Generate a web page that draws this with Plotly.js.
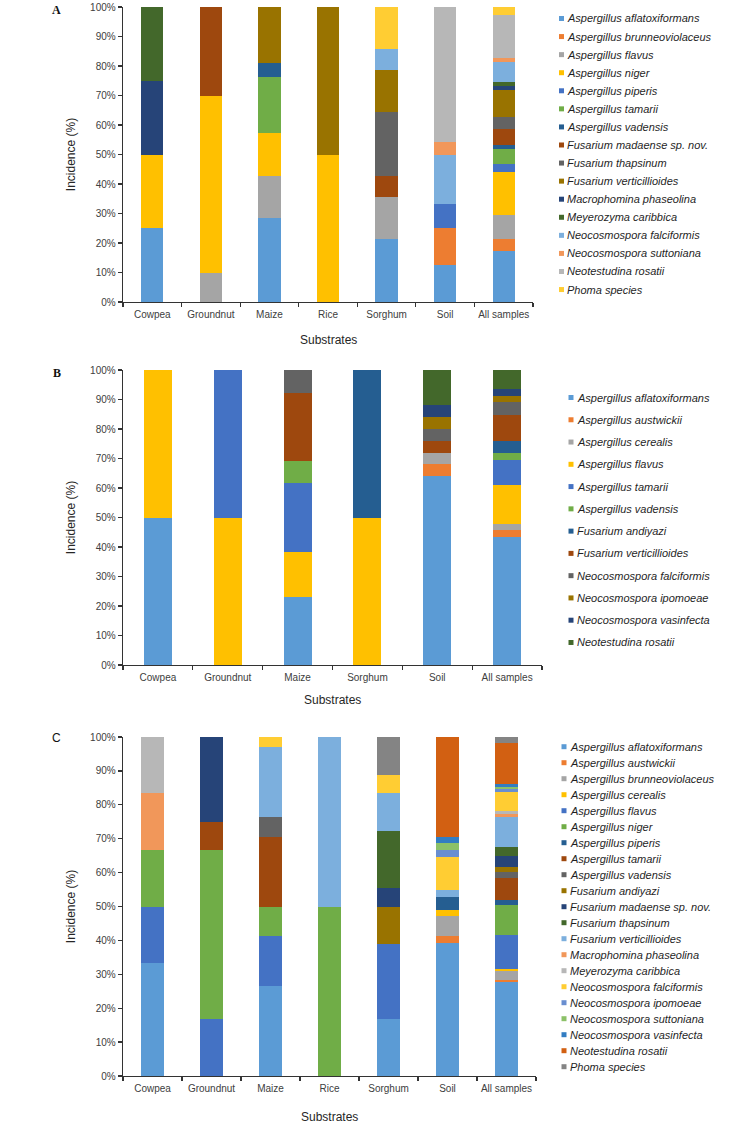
<!DOCTYPE html>
<html>
<head>
<meta charset="utf-8">
<script src="https://cdn.plot.ly/plotly-3.0.1.min.js"></script>
<style>html,body{margin:0;padding:0;background:#fff;}#chart{width:756px;height:1124px;}</style>
</head>
<body>
<div id="chart"></div>
<script>
// ---------------- DATA ----------------
const catsA = ['Cowpea', 'Groundnut', 'Maize', 'Rice', 'Sorghum', 'Soil', 'All samples'];
const speciesA = ['Aspergillus aflatoxiformans', 'Aspergillus brunneoviolaceus', 'Aspergillus flavus', 'Aspergillus niger',
  'Aspergillus piperis', 'Aspergillus tamarii', 'Aspergillus vadensis', 'Fusarium madaense sp. nov.', 'Fusarium thapsinum',
  'Fusarium verticillioides', 'Macrophomina phaseolina', 'Meyerozyma caribbica', 'Neocosmospora falciformis',
  'Neocosmospora suttoniana', 'Neotestudina rosatii', 'Phoma species'];
// one row per species, one value (%) per substrate
const valsA = [
  [25, 0, 28.57, 0, 21.43, 12.5, 17.33],
  [0, 0, 0, 0, 0, 12.5, 4.0],
  [0, 10, 14.29, 0, 14.29, 0, 8.0],
  [25, 60, 14.29, 50, 0, 0, 14.67],
  [0, 0, 0, 0, 0, 8.33, 2.67],
  [0, 0, 19.05, 0, 0, 0, 5.33],
  [0, 0, 4.76, 0, 0, 0, 1.33],
  [0, 30, 0, 0, 7.14, 0, 5.33],
  [0, 0, 0, 0, 21.43, 0, 4.0],
  [0, 0, 19.05, 50, 14.29, 0, 9.33],
  [25, 0, 0, 0, 0, 0, 1.33],
  [25, 0, 0, 0, 0, 0, 1.33],
  [0, 0, 0, 0, 7.14, 16.67, 6.67],
  [0, 0, 0, 0, 0, 4.17, 1.33],
  [0, 0, 0, 0, 0, 45.83, 14.67],
  [0, 0, 0, 0, 14.29, 0, 2.67]
];

const catsB = ['Cowpea', 'Groundnut', 'Maize', 'Sorghum', 'Soil', 'All samples'];
const speciesB = ['Aspergillus aflatoxiformans', 'Aspergillus austwickii', 'Aspergillus cerealis', 'Aspergillus flavus',
  'Aspergillus tamarii', 'Aspergillus vadensis', 'Fusarium andiyazi', 'Fusarium verticillioides',
  'Neocosmospora falciformis', 'Neocosmospora ipomoeae', 'Neocosmospora vasinfecta', 'Neotestudina rosatii'];
const valsB = [
  [50, 0, 23.08, 0, 64, 43.48],
  [0, 0, 0, 0, 4, 2.17],
  [0, 0, 0, 0, 4, 2.17],
  [50, 50, 15.38, 50, 0, 13.04],
  [0, 50, 23.08, 0, 0, 8.70],
  [0, 0, 7.69, 0, 0, 2.17],
  [0, 0, 0, 50, 0, 4.35],
  [0, 0, 23.08, 0, 4, 8.70],
  [0, 0, 7.69, 0, 4, 4.35],
  [0, 0, 0, 0, 4, 2.17],
  [0, 0, 0, 0, 4, 2.17],
  [0, 0, 0, 0, 12, 6.52]
];

const catsC = ['Cowpea', 'Groundnut', 'Maize', 'Rice', 'Sorghum', 'Soil', 'All samples'];
const speciesC = ['Aspergillus aflatoxiformans', 'Aspergillus austwickii', 'Aspergillus brunneoviolaceus', 'Aspergillus cerealis',
  'Aspergillus flavus', 'Aspergillus niger', 'Aspergillus piperis', 'Aspergillus tamarii', 'Aspergillus vadensis',
  'Fusarium andiyazi', 'Fusarium madaense sp. nov.', 'Fusarium thapsinum', 'Fusarium verticillioides',
  'Macrophomina phaseolina', 'Meyerozyma caribbica', 'Neocosmospora falciformis', 'Neocosmospora ipomoeae',
  'Neocosmospora suttoniana', 'Neocosmospora vasinfecta', 'Neotestudina rosatii', 'Phoma species'];
const valsC = [
  [33.33, 0, 26.47, 0, 16.67, 39.22, 27.64],
  [0, 0, 0, 0, 0, 1.96, 0.81],
  [0, 0, 0, 0, 0, 5.88, 2.44],
  [0, 0, 0, 0, 0, 1.96, 0.81],
  [16.67, 16.67, 14.71, 0, 22.22, 0, 9.76],
  [16.67, 50, 8.82, 50, 0, 0, 8.94],
  [0, 0, 0, 0, 0, 3.92, 1.63],
  [0, 8.33, 20.59, 0, 0, 0, 6.50],
  [0, 0, 5.88, 0, 0, 0, 1.63],
  [0, 0, 0, 0, 11.11, 0, 1.63],
  [0, 25, 0, 0, 5.56, 0, 3.25],
  [0, 0, 0, 0, 16.67, 0, 2.44],
  [0, 0, 20.59, 50, 11.11, 1.96, 8.94],
  [16.67, 0, 0, 0, 0, 0, 0.81],
  [16.67, 0, 0, 0, 0, 0, 0.81],
  [0, 0, 2.94, 0, 5.56, 9.80, 5.69],
  [0, 0, 0, 0, 0, 1.96, 0.81],
  [0, 0, 0, 0, 0, 1.96, 0.81],
  [0, 0, 0, 0, 0, 1.96, 0.81],
  [0, 0, 0, 0, 0, 29.41, 12.20],
  [0, 0, 0, 0, 11.11, 0, 1.63]
];

// ---------------- STYLE ----------------
const palette = ['#5B9BD5', '#ED7D31', '#A5A5A5', '#FFC000', '#4472C4', '#70AD47', '#255E91', '#9E480E', '#636363',
  '#997300', '#264478', '#43682B', '#7CAFDD', '#F1975A', '#B7B7B7', '#FFCD33', '#698ED0', '#8CC168', '#327DC2',
  '#D26012', '#848484'];
const W = 756, H = 1124;
const FONT = 'Liberation Sans, Arial, sans-serif';
const px = v => v / W;
const py = v => 1 - v / H;

const panels = [
  { cats: catsA, species: speciesA, vals: valsA, xa: 'x', ya: 'y', barw: 0.38,
    plot: { l: 123, r: 533, t: 7, b: 302 }, xtitleY: 340,
    legend: { sq: 561.5, tx: 566, y0: 18.5, dy: 18.07 },
    letter: { text: '<b>A</b>', x: 56, y: 10, family: 'Liberation Serif, Times New Roman, serif' } },
  { cats: catsB, species: speciesB, vals: valsB, xa: 'x2', ya: 'y2', barw: 0.40,
    plot: { l: 123, r: 542, t: 370, b: 665 }, xtitleY: 700,
    legend: { sq: 571, tx: 575.5, y0: 397.5, dy: 22.27 },
    letter: { text: '<b>B</b>', x: 57, y: 373, family: 'Liberation Serif, Times New Roman, serif' } },
  { cats: catsC, species: speciesC, vals: valsC, xa: 'x3', ya: 'y3', barw: 0.39,
    plot: { l: 123, r: 536, t: 737, b: 1076 }, xtitleY: 1117,
    legend: { sq: 564, tx: 568.5, y0: 746.7, dy: 16.0 },
    letter: { text: 'C', x: 56, y: 738, family: FONT } }
];

const traces = [];
const annotations = [];
const shapes = [];
const layout = {
  width: W, height: H,
  margin: { l: 0, r: 0, t: 0, b: 0 },
  paper_bgcolor: '#ffffff', plot_bgcolor: '#ffffff',
  barmode: 'stack',
  showlegend: false,
  font: { family: FONT, color: '#404040' },
  annotations: annotations,
  shapes: shapes
};

const axisLine = '#333333';
panels.forEach((p, k) => {
  p.species.forEach((sp, i) => {
    traces.push({
      type: 'bar',
      x: p.cats,
      y: p.vals[i],
      name: sp,
      width: p.barw,
      marker: { color: palette[i], line: { width: 0 } },
      xaxis: p.xa, yaxis: p.ya,
      hovertemplate: sp + ': %{y:.1f}%<extra>%{x}</extra>'
    });
    // legend entry (small square + italic label)
    const yc = p.legend.y0 + i * p.legend.dy;
    shapes.push({
      type: 'rect', xref: 'paper', yref: 'paper',
      x0: px(p.legend.sq - 2.5), x1: px(p.legend.sq + 2.5),
      y0: py(yc + 2.5), y1: py(yc - 2.5),
      fillcolor: palette[i], line: { width: 0 }
    });
    annotations.push({
      xref: 'paper', yref: 'paper', x: px(p.legend.tx), y: py(yc),
      xanchor: 'left', yanchor: 'middle', showarrow: false,
      text: '<i>' + sp + '</i>', borderpad: 0,
      font: { family: FONT, size: 11, color: '#1f1f1f' }
    });
  });
  annotations.push({
    xref: 'paper', yref: 'paper', x: px(p.letter.x), y: py(p.letter.y),
    xanchor: 'center', yanchor: 'middle', showarrow: false, text: p.letter.text,
    font: { family: p.letter.family, size: 12, color: '#111111' }
  });
  // x-axis title "Substrates"
  annotations.push({
    xref: 'paper', yref: 'paper', x: px((p.plot.l + p.plot.r) / 2), y: py(p.xtitleY),
    xanchor: 'center', yanchor: 'middle', showarrow: false, text: 'Substrates',
    font: { family: FONT, size: 12, color: '#262626' }
  });
  const xName = k === 0 ? 'xaxis' : 'xaxis' + (k + 1);
  const yName = k === 0 ? 'yaxis' : 'yaxis' + (k + 1);
  layout[xName] = {
    domain: [px(p.plot.l), px(p.plot.r)],
    anchor: p.ya,
    type: 'category',
    categoryorder: 'array', categoryarray: p.cats,
    range: [-0.5, p.cats.length - 0.5],
    tickson: 'boundaries', ticks: 'outside', ticklen: 4, tickwidth: 1.2, tickcolor: axisLine,
    tickangle: 0, ticklabelstandoff: 3,
    showline: true, linecolor: axisLine, linewidth: 1.3,
    showgrid: false, zeroline: false,
    tickfont: { family: FONT, size: 10, color: '#404040' },
    fixedrange: true
  };
  layout[yName] = {
    domain: [py(p.plot.b), py(p.plot.t)],
    anchor: p.xa,
    range: [0, 100], dtick: 10, tick0: 0, ticksuffix: '%',
    ticks: 'outside', ticklen: 4, tickwidth: 1.2, tickcolor: axisLine,
    showline: true, linecolor: axisLine, linewidth: 1.3,
    showgrid: false, zeroline: false,
    tickfont: { family: FONT, size: 10, color: '#404040' },
    title: { text: 'Incidence (%)', font: { family: FONT, size: 12, color: '#262626' }, standoff: 12 },
    fixedrange: true
  };
});

Plotly.newPlot('chart', traces, layout, { staticPlot: true, displayModeBar: false });
</script>
</body>
</html>
